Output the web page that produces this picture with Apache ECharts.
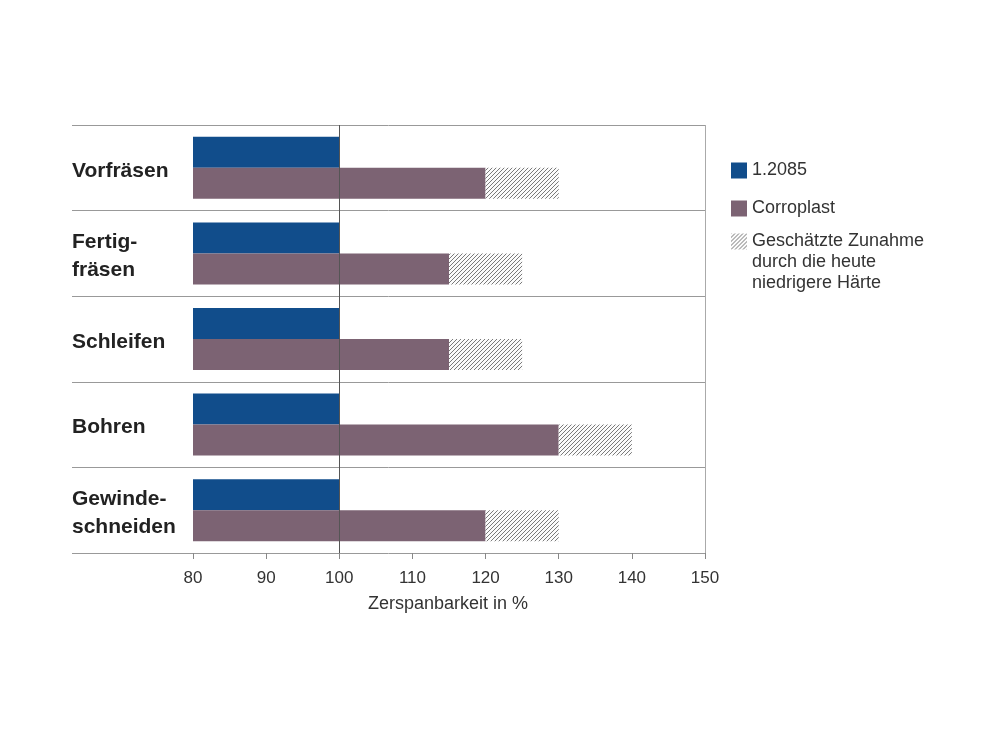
<!DOCTYPE html>
<html>
<head>
<meta charset="utf-8">
<script src="https://cdn.jsdelivr.net/npm/echarts@6/dist/echarts.min.js"></script>
<style>
  html, body { margin: 0; padding: 0; background: #fff; }
  #chart { width: 1000px; height: 750px; }
</style>
</head>
<body>
<div id="chart"></div>
<script>
  // data
  var categories = ['Vorfräsen', 'Fertig-\nfräsen', 'Schleifen', 'Bohren', 'Gewinde-\nschneiden'];
  var steelValues = [100, 100, 100, 100, 100];          // 1.2085
  var corroplastValues = [120, 115, 115, 130, 120];     // Corroplast
  var estimatedValues = [130, 125, 125, 140, 130];      // incl. estimated increase
  var tickValues = [80, 90, 100, 110, 120, 130, 140, 150];
  var barStart = 80;

  var names = ['1.2085', 'Corroplast', 'Geschätzte Zunahme\ndurch die heute\nniedrigere Härte'];

  // hatch pattern
  var hatch = document.createElement('canvas');
  hatch.width = 4; hatch.height = 4;
  var ctx = hatch.getContext('2d');
  ctx.fillStyle = '#fbfbfb';
  ctx.fillRect(0, 0, 4, 4);
  ctx.strokeStyle = '#7a7a7a';
  ctx.lineWidth = 1;
  ctx.beginPath();
  ctx.moveTo(0, 4); ctx.lineTo(4, 0);
  ctx.moveTo(-1, 1); ctx.lineTo(1, -1);
  ctx.moveTo(3, 5); ctx.lineTo(5, 3);
  ctx.stroke();

  var chart = echarts.init(document.getElementById('chart'));

  // axis min chosen so the separator lines reach out to the category labels
  var gridLeft = 72, gridRight = 295, x80 = 193;
  var axisMin = barStart - (x80 - gridLeft) / (1000 - gridRight - x80) * (150 - barStart);

  var baseData = categories.map(function () { return barStart; });
  var font = 'Liberation Sans';

  // wrap lines in rich tokens, with a spacer line on top to push text down
  function richLines(text, tok) {
    return '{s| }\n' + text.split('\n').map(function (s) { return '{' + tok + '|' + s + '}'; }).join('\n');
  }

  var option = {
    animation: false,
    textStyle: { fontFamily: font },
    grid: { left: gridLeft, right: gridRight, top: 125, bottom: 197 },
    legend: [
      {
        orient: 'vertical',
        left: 731,
        top: 160,
        padding: 0,
        icon: 'rect',
        itemWidth: 16,
        itemHeight: 16,
        itemGap: 17,
        data: [names[0], names[1]],
        textStyle: { fontSize: 18, color: '#333', lineHeight: 21, fontFamily: font }
      },
      {
        orient: 'vertical',
        left: 731,
        top: 189,
        padding: 0,
        icon: 'rect',
        itemWidth: 16,
        itemHeight: 16,
        data: [names[2]],
        formatter: function (name) { return richLines(name, 't'); },
        textStyle: {
          fontSize: 18, color: '#333', lineHeight: 21, fontFamily: font,
          rich: {
            s: { fontSize: 2, lineHeight: 42 },
            t: { fontSize: 18, color: '#333', lineHeight: 21, fontFamily: font }
          }
        }
      }
    ],
    xAxis: {
      type: 'value',
      min: axisMin,
      max: 150,
      axisLine: { show: false },
      splitLine: { show: false },
      axisTick: { show: true, customValues: tickValues, length: 6, lineStyle: { color: '#888' } },
      axisLabel: { customValues: tickValues, fontSize: 17, color: '#333', margin: 17, fontFamily: font },
      name: 'Zerspanbarkeit in %',
      nameLocation: 'middle',
      nameGap: 42,
      nameTextStyle: { fontSize: 18, color: '#333', padding: [0, 0, 0, 119], fontFamily: font }
    },
    yAxis: {
      type: 'category',
      inverse: true,
      data: categories,
      axisLine: { show: false },
      axisTick: { show: false },
      splitLine: { show: true, interval: 0, lineStyle: { color: '#999', width: 1 } },
      axisLabel: {
        inside: true,
        margin: 0,
        align: 'left',
        formatter: function (v) { return richLines(v, 'c'); },
        rich: {
          s: { fontSize: 2, lineHeight: 6 },
          c: { fontSize: 21, fontWeight: 'bold', fontFamily: font, color: '#222', lineHeight: 28 }
        }
      }
    },
    series: [
      {
        name: 'base1', type: 'bar', stack: 'a', barWidth: 31, barGap: '0%',
        itemStyle: { color: 'rgba(0,0,0,0)' }, silent: true, data: baseData
      },
      {
        name: names[0], type: 'bar', stack: 'a', barWidth: 31, barGap: '0%',
        itemStyle: { color: '#114d8b' },
        data: steelValues.map(function (v) { return v - barStart; }),
        markLine: {
          silent: true, symbol: 'none', label: { show: false },
          data: [
            { xAxis: 100, lineStyle: { color: '#555', width: 1, type: 'solid' } },
            { xAxis: 150, lineStyle: { color: '#aaa', width: 1, type: 'solid' } }
          ]
        }
      },
      {
        name: 'base2', type: 'bar', stack: 'b', barWidth: 31, barGap: '0%',
        itemStyle: { color: 'rgba(0,0,0,0)' }, silent: true, data: baseData
      },
      {
        name: names[1], type: 'bar', stack: 'b', barWidth: 31, barGap: '0%',
        itemStyle: { color: '#7c6373' },
        data: corroplastValues.map(function (v) { return v - barStart; })
      },
      {
        name: names[2], type: 'bar', stack: 'b', barWidth: 31, barGap: '0%',
        itemStyle: { color: { image: hatch, repeat: 'repeat' } },
        data: estimatedValues.map(function (v, i) { return v - corroplastValues[i]; })
      }
    ]
  };

  chart.setOption(option);
</script>
</body>
</html>
